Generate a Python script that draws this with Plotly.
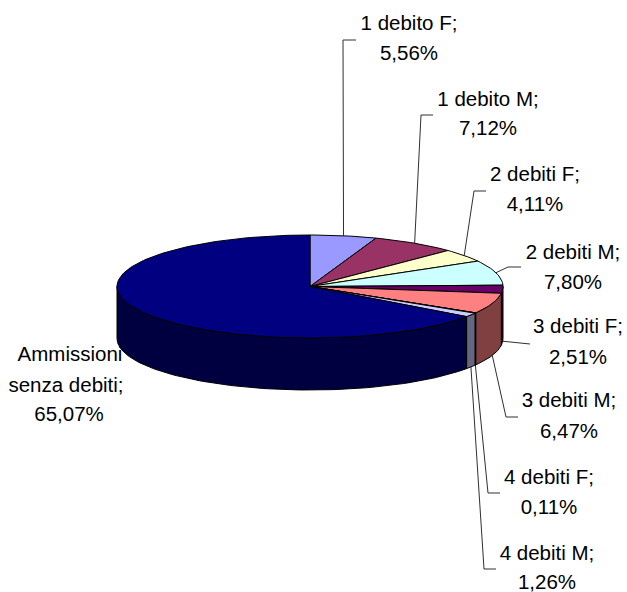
import math
import plotly.graph_objects as go

categories = ["1 debito F", "1 debito M", "2 debiti F", "2 debiti M", "3 debiti F",
              "3 debiti M", "4 debiti F", "4 debiti M", "Ammissioni senza debiti"]
values = [5.56, 7.12, 4.11, 7.80, 2.51, 6.47, 0.11, 1.26, 65.07]
value_labels = ["5,56%", "7,12%", "4,11%", "7,80%", "2,51%", "6,47%", "0,11%", "1,26%", "65,07%"]
top_colors = ["#9999FF", "#993366", "#FFFFCC", "#CCFFFF", "#660066",
              "#FF8080", "#0066CC", "#CCCCFF", "#000080"]
side_colors = ["#4C4C80", "#4C1933", "#808066", "#668080", "#330033",
               "#804040", "#003366", "#666680", "#000040"]

# Layout of the drawing (pixels of the 627x592 page)
CX, CY, A, B, DEPTH = 310, 286.5, 193, 51.5, 52
FONT = dict(family="Liberation Sans, Arial, sans-serif", size=20.5, color="#000000")
label_x = [409, 488, 535, 573, 578, 569, 549, 547]
label_y = [(25, 55), (101, 130), (176, 206), (254, 284), (328, 359), (402, 433), (479, 509), (555, 584)]
elbow = [(343, 40), (421, 115), (474, 191), (508, 267), None, (506, 417), (488, 493), (484, 569)]
leader_end = [356, 433, 486, 521, 530, 518, 500, 496]
leader_end_y3F = 344
big_label_lines = ["Ammissioni", "senza debiti;", "65,07%"]
big_label_x, big_label_y = [70, 66, 69], [356, 387, 416]


def pt(deg, dz=0):
    r = math.radians(deg)
    return CX + A * math.sin(r), CY - B * math.cos(r) + dz


def arc(a0, a1, dz=0):
    n = max(2, int(abs(a1 - a0) / 1.5) + 2)
    return [pt(a0 + (a1 - a0) * i / (n - 1), dz) for i in range(n)]


total = sum(values)
bounds = [0]
for v in values:
    bounds.append(bounds[-1] + v / total * 360)

fig = go.Figure()

# Text first, so the pie covers the start of the lowest label as in the reference
tx, ty, tt = [], [], []
for i in range(8):
    tx += [label_x[i]] * 2
    ty += list(label_y[i])
    tt += [categories[i] + ";", value_labels[i]]
tx += big_label_x
ty += big_label_y
tt += big_label_lines
fig.add_trace(go.Scatter(x=tx, y=ty, text=tt, mode="text", textposition="middle center",
                         textfont=FONT, hoverinfo="skip", cliponaxis=False))

# Leader lines
for i in range(8):
    mid = (bounds[i] + bounds[i + 1]) / 2
    on_wall = 90 < mid < 270
    sx, sy = pt(mid, DEPTH if on_wall else 0)
    if elbow[i] is None:
        xs, ys = [sx, leader_end[i]], [sy, leader_end_y3F]
    else:
        xs = [sx, elbow[i][0], leader_end[i]]
        ys = [sy, elbow[i][1], elbow[i][1]]
    fig.add_trace(go.Scatter(x=xs, y=ys, mode="lines", hoverinfo="skip",
                             line=dict(color="#303030", width=1)))

# Side walls: only the part of each slice on the front half
for i, v in enumerate(values):
    a0, a1 = max(bounds[i], 90), min(bounds[i + 1], 270)
    if a1 <= a0:
        continue
    poly = arc(a0, a1) + arc(a1, a0, DEPTH)
    poly.append(poly[0])
    fig.add_trace(go.Scatter(x=[p[0] for p in poly], y=[p[1] for p in poly], mode="lines",
                             fill="toself", fillcolor=side_colors[i], hoverinfo="skip",
                             line=dict(color="#000000", width=1)))

# Top face
for i, v in enumerate(values):
    poly = [(CX, CY)] + arc(bounds[i], bounds[i + 1]) + [(CX, CY)]
    fig.add_trace(go.Scatter(x=[p[0] for p in poly], y=[p[1] for p in poly], mode="lines",
                             fill="toself", fillcolor=top_colors[i], hoverinfo="skip",
                             line=dict(color="#000000", width=1)))

fig.update_layout(
    width=627, height=592, showlegend=False, autosize=False,
    margin=dict(l=0, r=0, t=0, b=0),
    paper_bgcolor="#FFFFFF", plot_bgcolor="#FFFFFF",
    xaxis=dict(range=[0, 627], visible=False, fixedrange=True),
    yaxis=dict(range=[592, 0], visible=False, fixedrange=True),
)
fig.write_html("out.html", config={"displayModeBar": False},
               post_script="document.body.style.margin='0';document.documentElement.style.overflow='hidden';")
